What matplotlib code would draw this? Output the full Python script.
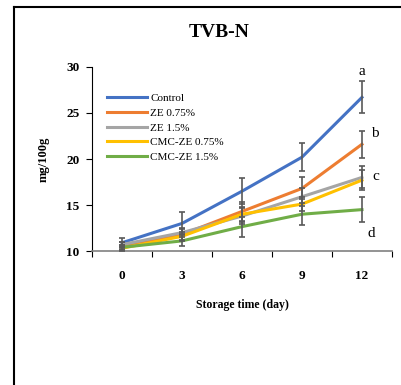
import matplotlib
matplotlib.use('Agg')
import matplotlib.pyplot as plt
from matplotlib.lines import Line2D
import numpy as np

# data
days = ['0', '3', '6', '9', '12']
series = ['Control', 'ZE 0.75%', 'ZE 1.5%', 'CMC-ZE 0.75%', 'CMC-ZE 1.5%']
control = [10.9, 13.0, 16.5, 20.2, 26.7]
ze075 = [10.6, 11.8, 14.3, 16.8, 21.6]
ze15 = [10.7, 12.0, 13.8, 15.9, 18.0]
cmc075 = [10.3, 11.6, 14.0, 15.1, 17.7]
cmc15 = [10.4, 11.1, 12.65, 14.0, 14.5]
err_control = [0.5, 1.2, 1.4, 1.5, 1.75]
err_ze075 = [0.4, 0.6, 1.0, 1.2, 1.45]
err_ze15 = [0.3, 0.5, 0.9, 1.0, 1.2]
err_cmc075 = [0.3, 0.5, 0.8, 0.8, 1.1]
err_cmc15 = [0.3, 0.6, 1.1, 1.2, 1.4]
letters = ['a', 'b', 'c', 'd']

colors = ['#4472C4', '#ED7D31', '#A5A5A5', '#FFC000', '#70AD47']
values = [control, ze075, ze15, cmc075, cmc15]
errors = [err_control, err_ze075, err_ze15, err_cmc075, err_cmc15]

plt.rcParams['font.family'] = ['Liberation Serif', 'DejaVu Serif']

fig = plt.figure(figsize=(4.02, 3.85), dpi=100)
ax = fig.add_axes([0.229, 0.348, 0.746, 0.478])

x = np.arange(len(days))
for name, v, c in zip(series, values, colors):
    ax.plot(x, v, color=c, lw=2.2, label=name, zorder=2)
for v, e in zip(values, errors):
    ax.errorbar(x, v, yerr=e, fmt='none', ecolor='#595959', elinewidth=1.2,
                capsize=2.5, capthick=1.2, zorder=3)

# significance letters at day 12
ax.text(4, control[4] + err_control[4] + 0.3, letters[0], ha='center', va='bottom', fontsize=11)
ax.text(4.15, ze075[4] + err_ze075[4] - 0.3, letters[1], ha='left', va='center', fontsize=11)
ax.text(4.17, ze15[4] + 0.1, letters[2], ha='left', va='center', fontsize=11)
ax.text(4.1, cmc15[4] - err_cmc15[4] - 0.5, letters[3], ha='left', va='top', fontsize=11)

ax.set_xlim(-0.5, 4.5)
ax.set_ylim(10, 30)
ax.set_yticks([10, 15, 20, 25, 30])
ax.set_xticks(x)
ax.set_xticklabels(days)
ax.set_xticks(np.arange(-0.5, 5, 1), minor=True)
ax.tick_params(axis='x', which='major', length=0, pad=14)
ax.tick_params(axis='x', which='minor', length=4, direction='out', width=0.8)
ax.tick_params(axis='y', length=4, direction='out', width=0.8, pad=5)
for lab in ax.get_xticklabels() + ax.get_yticklabels():
    lab.set_fontweight('bold')
    lab.set_fontsize(9.5)

ax.spines['top'].set_visible(False)
ax.spines['right'].set_visible(False)
ax.spines['left'].set_color('black')
ax.spines['bottom'].set_color('#808080')
ax.spines['bottom'].set_linewidth(1.2)

ax.set_xlabel('Storage time (day)', fontsize=8.5, fontweight='bold', labelpad=12)
ax.set_ylabel('mg/100g', fontsize=9, fontweight='bold', labelpad=12)
fig.text(0.545, 0.915, 'TVB-N', ha='center', va='center', fontsize=14, fontweight='bold')

ax.legend(loc='upper left', bbox_to_anchor=(0.025, 0.9), frameon=False, fontsize=8,
          handlelength=3.6, handletextpad=0.25, labelspacing=0.45, borderpad=0.2)

# outer frame lines (left and top)
fig.add_artist(Line2D([0.034, 0.034], [0.0, 0.982], color='black', lw=1.5, transform=fig.transFigure))
fig.add_artist(Line2D([0.034, 1.0], [0.982, 0.982], color='black', lw=1.5, transform=fig.transFigure))

fig.savefig('out.png', dpi=100)
